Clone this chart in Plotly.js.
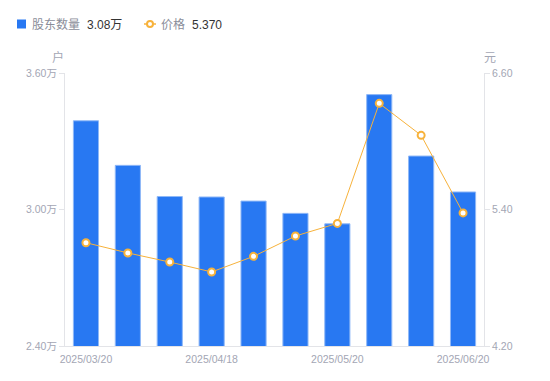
<!DOCTYPE html>
<html>
<head>
<meta charset="utf-8">
<script src="https://cdn.plot.ly/plotly-3.0.1.min.js"></script>
<style>
html,body{margin:0;padding:0;background:#fff;}
#chart{width:550px;height:381px;}
</style>
</head>
<body>
<div id="chart"></div>
<script>
const dates = ['2025/03/20','2025/03/31','2025/04/10','2025/04/18','2025/04/30','2025/05/09','2025/05/20','2025/05/30','2025/06/10','2025/06/20'];
const holders = [3.390, 3.194, 3.057, 3.055, 3.037, 2.983, 2.937, 3.505, 3.235, 3.077];
const prices = [5.108, 5.018, 4.938, 4.851, 4.988, 5.167, 5.278, 6.333, 6.052, 5.370];
const shownTicks = ['2025/03/20','2025/04/18','2025/05/20','2025/06/20'];
const leftTicks = [2.40, 3.00, 3.60];
const rightTicks = [4.20, 5.40, 6.60];

const FONT = '"Liberation Sans", "Noto Sans CJK SC", sans-serif';
const GRAY = '#a3a6b4';
const AXIS = '#e3e4e8';
const BLUE = '#2878f2';
const ORANGE = '#f7b23b';

const traces = [
  {
    type: 'bar', x: dates, y: holders, yaxis: 'y', name: '股东数量',
    width: 0.6,
    marker: {color: BLUE, line: {color: '#8fb8f7', width: 1}},
    hoverinfo: 'skip'
  },
  {
    type: 'scatter', mode: 'lines+markers', x: dates, y: prices, yaxis: 'y2', name: '价格',
    line: {color: ORANGE, width: 1},
    marker: {symbol: 'circle', size: 7, color: '#ffffff', line: {color: ORANGE, width: 2}},
    hoverinfo: 'skip'
  }
];

const lastH = holders[holders.length - 1].toFixed(2) + '万';
const lastP = prices[prices.length - 1].toFixed(3);

const layout = {
  width: 550, height: 381,
  margin: {l: 65, r: 66, t: 73, b: 35},
  paper_bgcolor: '#ffffff', plot_bgcolor: '#ffffff',
  showlegend: false,
  font: {family: FONT, size: 10, color: GRAY},
  xaxis: {
    type: 'category', range: [-0.5, 9.5],
    tickmode: 'array', tickvals: shownTicks, ticktext: shownTicks,
    showgrid: false, showline: true, linecolor: AXIS, linewidth: 1,
    ticks: '', ticklabelstandoff: 3, tickfont: {size: 10.5, color: GRAY, family: FONT},
    zeroline: false, fixedrange: true
  },
  yaxis: {
    range: [2.40, 3.60], tickmode: 'array', tickvals: leftTicks,
    ticktext: leftTicks.map(v => v.toFixed(2) + '万'),
    showgrid: false, zeroline: false, showline: true, linecolor: AXIS, linewidth: 1,
    ticks: 'outside', ticklen: 5, tickcolor: AXIS,
    tickfont: {size: 10.5, color: GRAY, family: FONT}
  },
  yaxis2: {
    range: [4.20, 6.60], overlaying: 'y', side: 'right',
    tickmode: 'array', tickvals: rightTicks, ticktext: rightTicks.map(v => v.toFixed(2)),
    showgrid: false, zeroline: false, showline: true, linecolor: AXIS, linewidth: 1,
    ticks: 'outside', ticklen: 5, tickcolor: AXIS,
    tickfont: {size: 10.5, color: GRAY, family: FONT}
  },
  annotations: []
};

// helper: pixel positions -> paper coords
function px(x) { return (x - 65) / (550 - 65 - 66); }
function py(y) { return (381 - 35 - y) / (381 - 73 - 35); }
layout.shapes = [
  {type: 'rect', xref: 'paper', yref: 'paper', x0: px(17), x1: px(26), y0: py(28.5), y1: py(19.5),
   fillcolor: BLUE, line: {width: 0}, layer: 'above'},
  {type: 'line', xref: 'paper', yref: 'paper', x0: px(144), x1: px(156), y0: py(24), y1: py(24),
   line: {color: ORANGE, width: 1.5}, layer: 'above'},
  {type: 'circle', xref: 'paper', yref: 'paper', x0: px(147), x1: px(153), y0: py(27), y1: py(21),
   fillcolor: '#ffffff', line: {color: ORANGE, width: 2}, layer: 'above'}
];
layout.annotations.push(
  {xref: 'paper', yref: 'paper', x: px(58), y: py(58), xanchor: 'center', yanchor: 'middle',
   text: '户', showarrow: false, font: {size: 12, color: GRAY, family: FONT}},
  {xref: 'paper', yref: 'paper', x: px(490), y: py(58), xanchor: 'center', yanchor: 'middle',
   text: '元', showarrow: false, font: {size: 12, color: GRAY, family: FONT}},
  {xref: 'paper', yref: 'paper', x: px(30), y: py(25), xanchor: 'left', yanchor: 'middle',
   text: '股东数量', showarrow: false, font: {size: 12, color: '#8a8d99', family: FONT}},
  {xref: 'paper', yref: 'paper', x: px(85), y: py(25), xanchor: 'left', yanchor: 'middle',
   text: lastH, showarrow: false, font: {size: 12, color: '#333333', family: FONT}},
  {xref: 'paper', yref: 'paper', x: px(159), y: py(25), xanchor: 'left', yanchor: 'middle',
   text: '价格', showarrow: false, font: {size: 12, color: '#8a8d99', family: FONT}},
  {xref: 'paper', yref: 'paper', x: px(190), y: py(25), xanchor: 'left', yanchor: 'middle',
   text: lastP, showarrow: false, font: {size: 12, color: '#333333', family: FONT}}
);

Plotly.newPlot('chart', traces, layout, {displayModeBar: false, staticPlot: true});
</script>
</body>
</html>
